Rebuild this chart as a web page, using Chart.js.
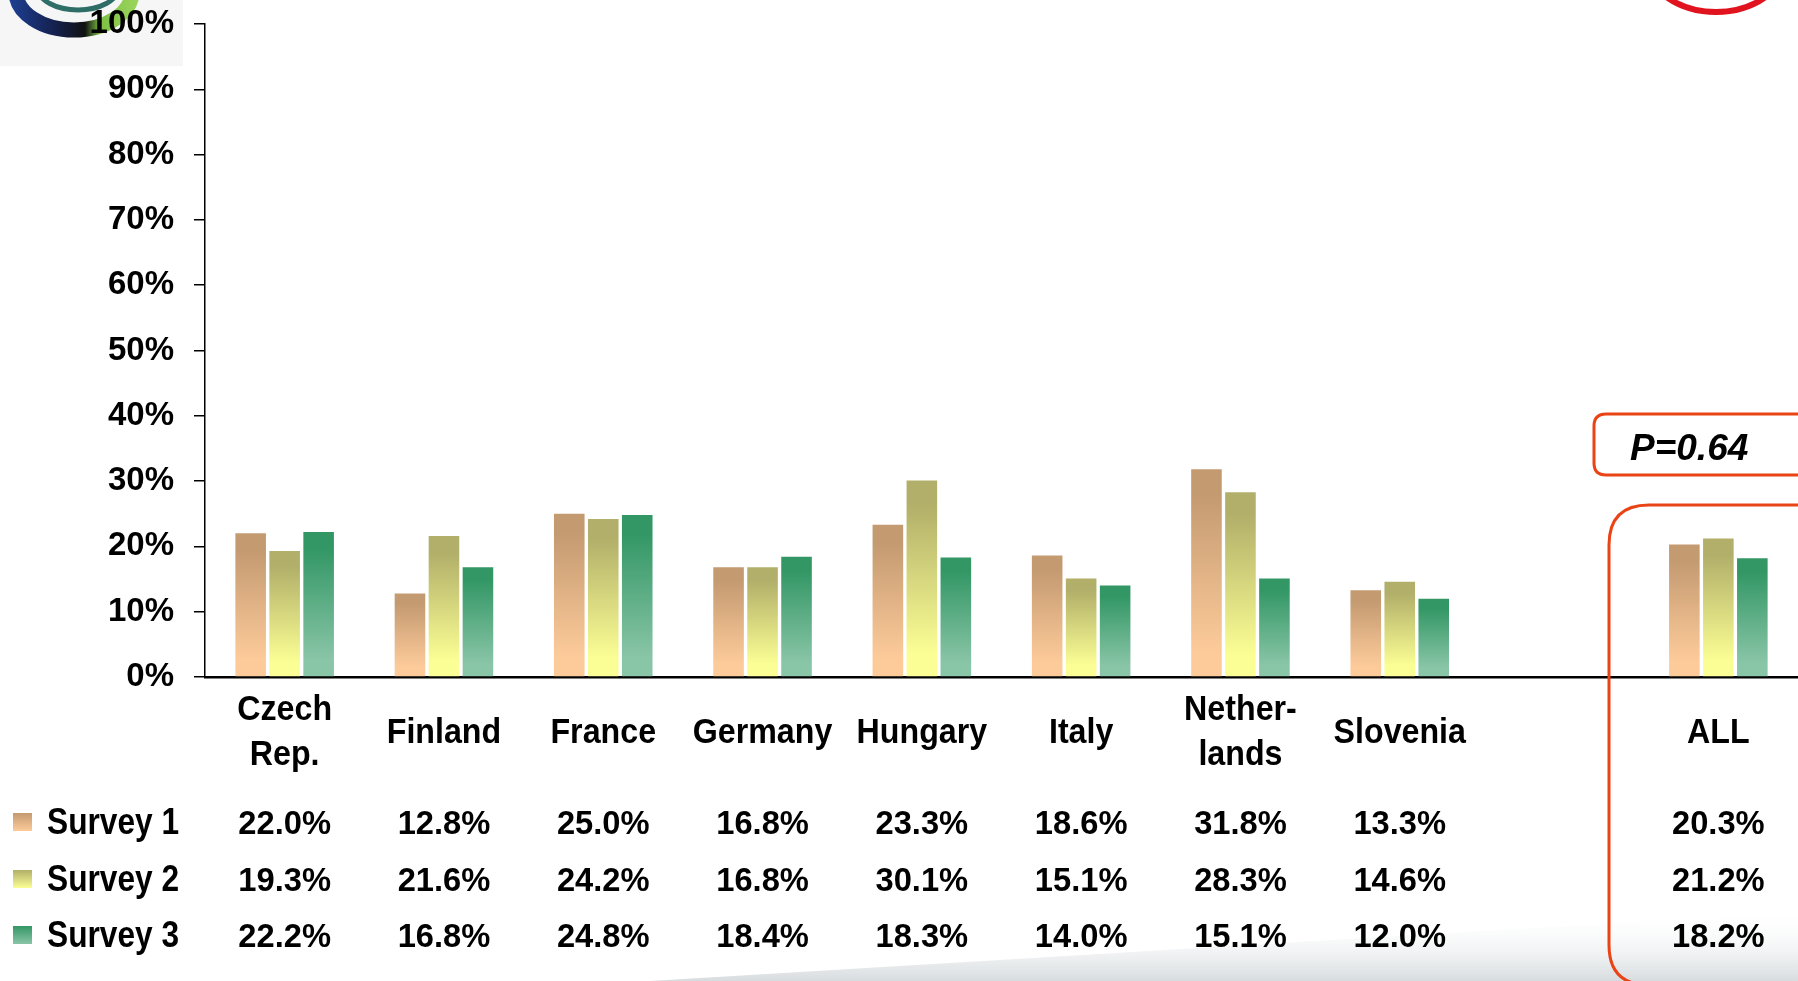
<!DOCTYPE html>
<html>
<head>
<meta charset="utf-8">
<script src="https://cdn.jsdelivr.net/npm/chart.js@4.4.1/dist/chart.umd.min.js"></script>
<style>
  html, body { margin: 0; padding: 0; background: #ffffff; overflow: hidden; }
  #wrap { width: 1798px; height: 981px; position: relative; }
</style>
</head>
<body>
<div id="wrap"><canvas id="c" width="1798" height="981"></canvas></div>
<script>
// ---- data ----
const categories = [['Czech', 'Rep.'], 'Finland', 'France', 'Germany', 'Hungary', 'Italy', ['Nether-', 'lands'], 'Slovenia', '', 'ALL'];
const seriesNames = ['Survey 1', 'Survey 2', 'Survey 3'];
const survey1 = [22.0, 12.8, 25.0, 16.8, 23.3, 18.6, 31.8, 13.3, null, 20.3];
const survey2 = [19.3, 21.6, 24.2, 16.8, 30.1, 15.1, 28.3, 14.6, null, 21.2];
const survey3 = [22.2, 16.8, 24.8, 18.4, 18.3, 14.0, 15.1, 12.0, null, 18.2];
const yTicks = [0, 10, 20, 30, 40, 50, 60, 70, 80, 90, 100];
const pValueText = 'P=0.64';

// ---- styles ----
const gradColors = [
  ['#c49a71', '#fdcb9a'],
  ['#b1af69', '#fbfe94'],
  ['#339765', '#89c5a7']
];
const FONT = '"Liberation Sans", Arial, Helvetica, sans-serif';
const RED = '#ea4416';

function barGradient(ctx, idx) {
  const chart = ctx.chart;
  const c = gradColors[idx];
  if (ctx.type !== 'data' || !chart.chartArea) return c[0];
  const v = ctx.raw;
  if (v === null || v === undefined) return c[0];
  const ys = chart.scales.y;
  const top = ys.getPixelForValue(v);
  const bot = ys.getPixelForValue(0);
  const g = chart.ctx.createLinearGradient(0, top, 0, bot);
  g.addColorStop(0, c[0]);
  g.addColorStop(0.12, c[0]);
  g.addColorStop(0.88, c[1]);
  g.addColorStop(1, c[1]);
  return g;
}

function drawScaledText(ctx, text, x, y, font, sx, align) {
  ctx.save();
  ctx.translate(x, y);
  ctx.scale(sx, 1);
  ctx.font = font;
  ctx.textAlign = align;
  ctx.textBaseline = 'alphabetic';
  ctx.fillStyle = '#000';
  ctx.fillText(text, 0, 0);
  ctx.restore();
}

function roundRectPath(ctx, x, y, w, h, r) {
  ctx.beginPath();
  ctx.moveTo(x + r, y);
  ctx.lineTo(x + w - r, y);
  ctx.quadraticCurveTo(x + w, y, x + w, y + r);
  ctx.lineTo(x + w, y + h - r);
  ctx.quadraticCurveTo(x + w, y + h, x + w - r, y + h);
  ctx.lineTo(x + r, y + h);
  ctx.quadraticCurveTo(x, y + h, x, y + h - r);
  ctx.lineTo(x, y + r);
  ctx.quadraticCurveTo(x, y, x + r, y);
  ctx.closePath();
}

const decorPlugin = {
  id: 'decor',
  beforeDraw(chart) {
    const ctx = chart.ctx;
    ctx.save();
    // bottom grey swoosh
    const g = ctx.createLinearGradient(0, 981, 0, 910);
    g.addColorStop(0, 'rgba(175,185,190,0.5)');
    g.addColorStop(1, 'rgba(255,255,255,0)');
    ctx.fillStyle = g;
    ctx.beginPath();
    ctx.moveTo(650, 981);
    ctx.lineTo(1798, 912);
    ctx.lineTo(1798, 981);
    ctx.closePath();
    ctx.fill();
    // top-left logo remnant
    ctx.fillStyle = '#f6f6f6';
    ctx.fillRect(0, 0, 183, 66);
    const lg = ctx.createLinearGradient(10, 0, 135, 0);
    lg.addColorStop(0, '#1d3f93');
    lg.addColorStop(0.35, '#15214f');
    lg.addColorStop(0.6, '#111111');
    lg.addColorStop(0.72, '#7dc143');
    lg.addColorStop(1, '#9ad35c');
    ctx.strokeStyle = lg;
    ctx.lineWidth = 15;
    ctx.beginPath();
    ctx.ellipse(74, -8, 58, 38, 0, 0, Math.PI);
    ctx.stroke();
    ctx.strokeStyle = '#2f6e66';
    ctx.lineWidth = 5;
    ctx.beginPath();
    ctx.ellipse(78, -12, 40, 22, 0, 0, Math.PI);
    ctx.stroke();
    // top-right red ring remnant
    ctx.strokeStyle = '#e0131f';
    ctx.lineWidth = 6;
    ctx.beginPath();
    ctx.ellipse(1716, -58, 80, 70, 0, 0, Math.PI);
    ctx.stroke();
    ctx.restore();
  },
  afterDraw(chart) {
    const ctx = chart.ctx;
    const xs = chart.scales.x;
    const labels = chart.data.labels;
    const catFont = 'bold 35px ' + FONT;
    const catScale = 0.92;
    // category labels
    labels.forEach((lab, i) => {
      const x = xs.getPixelForValue(i);
      if (Array.isArray(lab)) {
        drawScaledText(ctx, lab[0], x, 720, catFont, catScale, 'center');
        drawScaledText(ctx, lab[1], x, 765, catFont, catScale, 'center');
      } else if (lab) {
        drawScaledText(ctx, lab, x, 743, catFont, catScale, 'center');
      }
    });
    // data table with legend
    const rowBase = [834, 891, 947];
    chart.data.datasets.forEach((ds, si) => {
      const yb = rowBase[si];
      const c = gradColors[si];
      const sg = ctx.createLinearGradient(0, yb - 21, 0, yb - 3);
      sg.addColorStop(0, c[0]);
      sg.addColorStop(1, c[1]);
      ctx.fillStyle = sg;
      ctx.fillRect(13, yb - 21, 19, 18);
      drawScaledText(ctx, ds.label, 47, yb, 'bold 36px ' + FONT, 0.88, 'left');
      ds.data.forEach((v, i) => {
        if (v === null || v === undefined) return;
        drawScaledText(ctx, v.toFixed(1) + '%', xs.getPixelForValue(i), yb, 'bold 33px ' + FONT, 0.99, 'center');
      });
    });
    // highlight boxes
    ctx.save();
    ctx.strokeStyle = RED;
    ctx.lineWidth = 3;
    roundRectPath(ctx, 1594, 414, 260, 61, 12);
    ctx.stroke();
    roundRectPath(ctx, 1609, 505, 260, 480, 40);
    ctx.stroke();
    ctx.restore();
    ctx.save();
    ctx.font = 'italic bold 37px ' + FONT;
    ctx.fillStyle = '#000';
    ctx.textAlign = 'left';
    ctx.textBaseline = 'alphabetic';
    ctx.fillText(pValueText, 1630, 460);
    ctx.restore();
  }
};

const chart = new Chart(document.getElementById('c'), {
  type: 'bar',
  data: {
    labels: categories,
    datasets: [
      { label: seriesNames[0], data: survey1, backgroundColor: c => barGradient(c, 0) },
      { label: seriesNames[1], data: survey2, backgroundColor: c => barGradient(c, 1) },
      { label: seriesNames[2], data: survey3, backgroundColor: c => barGradient(c, 2) }
    ]
  },
  options: {
    responsive: false,
    animation: false,
    devicePixelRatio: 1,
    layout: { padding: { top: 24, left: 0, right: 0, bottom: 0 } },
    datasets: { bar: { categoryPercentage: 0.64, barPercentage: 0.9, borderWidth: 0 } },
    plugins: { legend: { display: false }, tooltip: { enabled: false } },
    scales: {
      x: {
        ticks: { display: false },
        grid: { display: false, drawOnChartArea: false, drawTicks: false },
        border: { display: true, color: '#000', width: 2.5 },
        afterFit(scale) {
          scale.height = 981 - 677;
          scale.paddingLeft = 0; scale.paddingRight = 0;
        }
      },
      y: {
        min: 0,
        max: 100,
        afterBuildTicks(scale) { scale.ticks = yTicks.map(v => ({ value: v })); },
        ticks: {
          stepSize: 10,
          color: '#000',
          padding: 20,
          font: { family: FONT, size: 33, weight: 'bold' },
          callback: v => v + '%'
        },
        grid: { drawOnChartArea: false, drawTicks: true, tickLength: 11, color: '#000', lineWidth: 1.5 },
        border: { display: true, color: '#000', width: 1.5 },
        afterFit(scale) {
          scale.width = 205;
          scale.paddingTop = 0; scale.paddingBottom = 0;
        }
      }
    }
  },
  plugins: [decorPlugin]
});
</script>
</body>
</html>
